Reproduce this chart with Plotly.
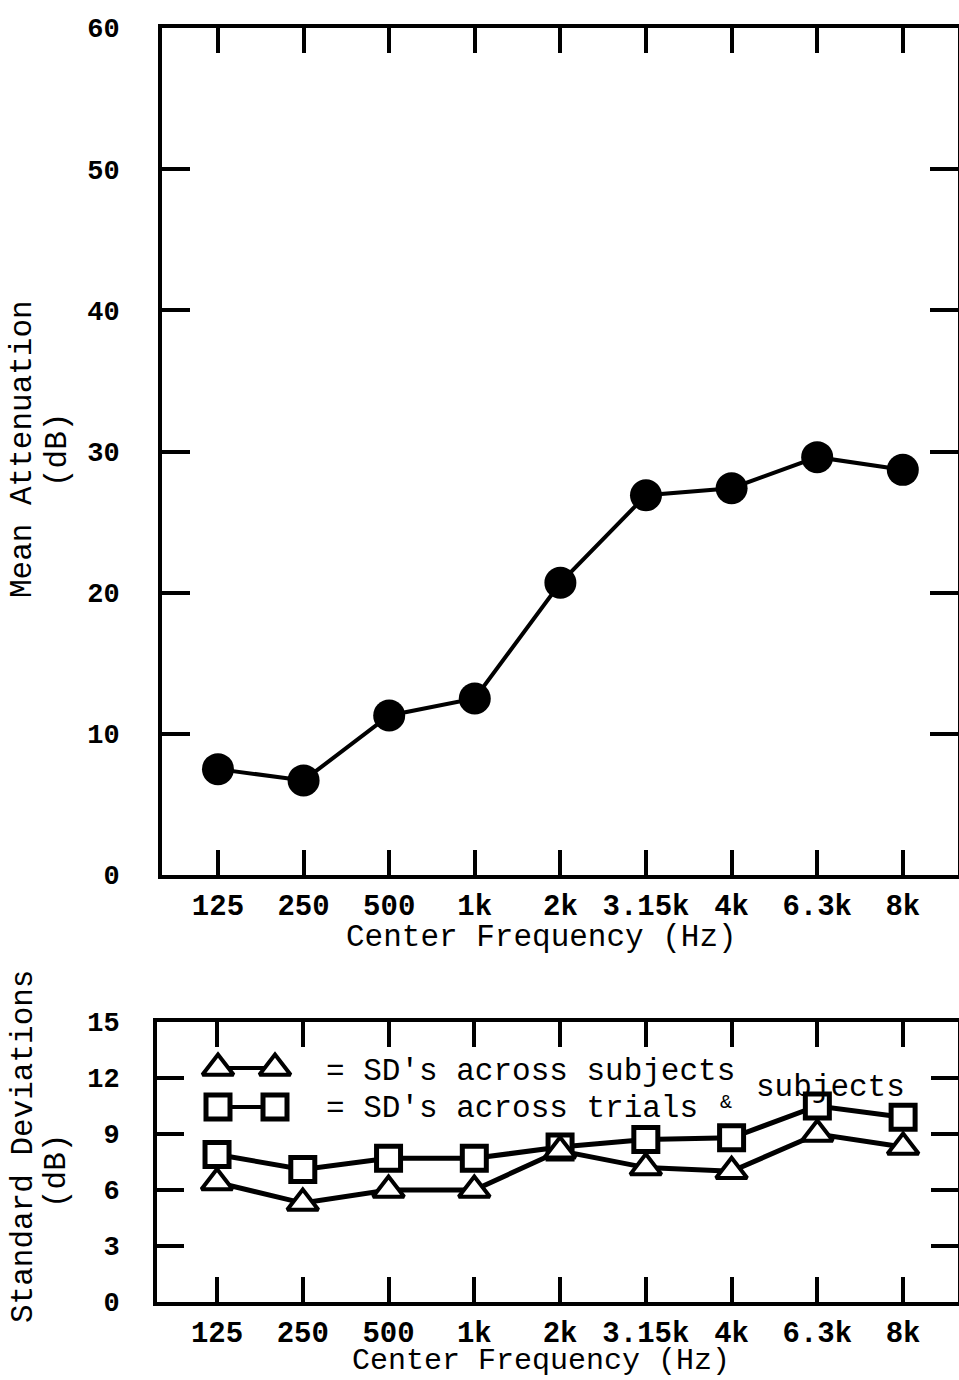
import plotly.graph_objects as go

# ---------------- data ----------------
freqs = ["125", "250", "500", "1k", "2k", "3.15k", "4k", "6.3k", "8k"]
mean_atten = [7.5, 6.7, 11.3, 12.5, 20.7, 26.9, 27.4, 29.6, 28.7]
sd_subjects = [6.4, 5.3, 6.0, 6.0, 8.1, 7.2, 7.0, 9.0, 8.3]
sd_trials_subjects = [7.9, 7.1, 7.7, 7.7, 8.3, 8.7, 8.8, 10.5, 9.9]
top_yticks = [0, 10, 20, 30, 40, 50, 60]
bot_yticks = [0, 3, 6, 9, 12, 15]

W, H = 959, 1380
def px(x):
    return x / W
def py(y):
    return 1 - y / H

MONO = "Liberation Mono"
tickfont = dict(family=MONO, size=29, color="black", weight="bold")
ytickfont = dict(family=MONO, size=27, color="black", weight="bold")
titlefont = dict(family=MONO, size=31, color="black")

fig = go.Figure()

# top panel
fig.add_trace(go.Scatter(
    x=freqs, y=mean_atten, mode="lines+markers",
    line=dict(color="black", width=4),
    marker=dict(symbol="circle", size=32, color="black"),
    xaxis="x", yaxis="y", hoverinfo="skip"))

# bottom panel
fig.add_trace(go.Scatter(
    x=freqs, y=sd_trials_subjects, mode="lines+markers",
    line=dict(color="black", width=5),
    marker=dict(symbol="square", size=24, color="white",
                line=dict(color="black", width=5)),
    xaxis="x2", yaxis="y2", hoverinfo="skip"))
fig.add_trace(go.Scatter(
    x=freqs, y=sd_subjects, mode="lines+markers",
    line=dict(color="black", width=5),
    marker=dict(symbol="triangle-up", size=27, color="white",
                line=dict(color="black", width=4)),
    xaxis="x2", yaxis="y2", hoverinfo="skip"))

# legend keys (drawn in a full-page paper-coordinate axis)
LEG_X = [px(218), px(275)]
LEG_TRI_Y = py(1068)
LEG_SQ_Y = py(1107)
fig.add_trace(go.Scatter(
    x=LEG_X, y=[LEG_TRI_Y, LEG_TRI_Y], mode="lines+markers",
    line=dict(color="black", width=4),
    marker=dict(symbol="triangle-up", size=27, color="white",
                line=dict(color="black", width=4)),
    xaxis="x3", yaxis="y3", hoverinfo="skip"))
fig.add_trace(go.Scatter(
    x=LEG_X, y=[LEG_SQ_Y, LEG_SQ_Y], mode="lines+markers",
    line=dict(color="black", width=4),
    marker=dict(symbol="square", size=24, color="white",
                line=dict(color="black", width=5)),
    xaxis="x3", yaxis="y3", hoverinfo="skip"))

axis_common = dict(showline=True, linewidth=4, linecolor="black", mirror="ticks",
                   ticks="inside", tickwidth=4, tickcolor="black", automargin=False,
                   showgrid=False, zeroline=False)

fig.update_layout(
    template="none",
    width=W, height=H, margin=dict(l=0, r=0, t=0, b=0, pad=0, autoexpand=False),
    paper_bgcolor="white", plot_bgcolor="rgba(0,0,0,0)", showlegend=False,
    xaxis=dict(domain=[px(162), px(958)], anchor="y", type="category",
               range=[-0.654, 8.645], ticklen=25, ticklabelstandoff=1,
               tickfont=tickfont, **axis_common),
    yaxis=dict(domain=[py(875), py(28)], anchor="x", range=[0, 60],
               tickvals=top_yticks, ticklen=28, ticklabelstandoff=33,
               tickfont=ytickfont, **axis_common),
    xaxis2=dict(domain=[px(157), px(958)], anchor="y2", type="category",
                range=[-0.70, 8.64], ticklen=25, ticklabelstandoff=1,
                tickfont=tickfont, **axis_common),
    yaxis2=dict(domain=[py(1302), py(1022)], anchor="x2", range=[0, 15],
                tickvals=bot_yticks, ticklen=27, ticklabelstandoff=28,
                tickfont=ytickfont, **axis_common),
    xaxis3=dict(domain=[0, 1], range=[0, 1], visible=False, anchor="y3",
                automargin=False, fixedrange=True),
    yaxis3=dict(domain=[0, 1], range=[0, 1], visible=False, anchor="x3",
                automargin=False, fixedrange=True),
)

ann = [
    dict(text="Center Frequency (Hz)", x=px(541), y=py(937)),
    dict(text="Center Frequency (Hz)", x=px(541), y=py(1361),
         font=dict(family=MONO, size=30, color="black")),
    dict(text="Mean Attenuation", x=px(23), y=py(449), textangle=-90),
    dict(text="(dB)", x=px(57), y=py(450), textangle=-90),
    dict(text="Standard Deviations", x=px(23), y=py(1147), textangle=-90),
    dict(text="(dB)", x=px(56), y=py(1171), textangle=-90),
    dict(text="= SD's across subjects", x=px(324), y=py(1071), xanchor="left"),
    dict(text="= SD's across trials", x=px(324), y=py(1108), xanchor="left"),
    dict(text="subjects", x=px(754), y=py(1087), xanchor="left"),
    dict(text="&", x=px(718), y=py(1102), xanchor="left",
         font=dict(family=MONO, size=20, color="black")),
]
for a in ann:
    a.setdefault("font", titlefont)
    a.setdefault("xanchor", "center")
    fig.add_annotation(xref="paper", yref="paper", showarrow=False,
                       yanchor="middle", **a)

fig.write_html("out.html")
